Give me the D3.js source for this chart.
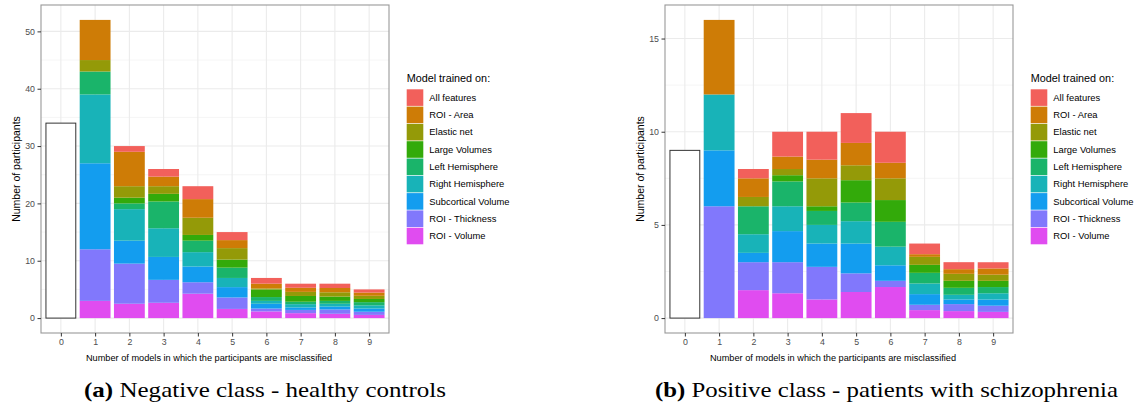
<!DOCTYPE html>
<html><head><meta charset="utf-8">
<script src="https://cdn.jsdelivr.net/npm/d3@7"></script>
<style>body{margin:0;background:#fff}svg{display:block}</style>
</head><body>
<svg id="c" width="1134" height="405"></svg>
<script>
// ---- data ----
const categories = [0,1,2,3,4,5,6,7,8,9];
const seriesNames = ["ROI - Volume","ROI - Thickness","Subcortical Volume","Right Hemisphere","Left Hemisphere","Large Volumes","Elastic net","ROI - Area","All features"];
const seriesColors = ["#E04CF0","#8178FC","#139DEF","#18B3B8","#1AB46A","#33AA0A","#949A08","#CE7C06","#F2605B"];
const yTicksNeg = [0,10,20,30,40,50];
const yTicksPos = [0,5,10,15];

// Negative class (healthy controls)
const negZero = 34;
const negVolume      = [0, 3, 2.5, 2.667, 4.25, 1.6, 1.167, 0.857, 0.75, 0.556];
const negThickness   = [0, 9, 7,   4,     2,    2.0, 0.5,   0.571, 0.75, 0.556];
const negSubcortical = [0,15, 4,   4,     2.75, 1.8, 0.833, 0.429, 0.5,  0.556];
const negRight       = [0,12, 5.5, 5,     2.5,  1.6, 0.5,   0.571, 0.5,  0.556];
const negLeft        = [0, 4, 1,   4.667, 2,    1.8, 0.667, 0.429, 0.5,  0.556];
const negLarge       = [0, 0, 1,   1.333, 1,    1.4, 1.333, 1.0,   0.75, 0.556];
const negElastic     = [0, 2, 2,   1.333, 3,    2.0, 0.167, 0.714, 0.75, 0.556];
const negArea        = [0, 7, 6,   1.667, 3.25, 1.4, 0.833, 0.714, 0.75, 0.556];
const negAll         = [0, 0, 1,   1.333, 2.25, 1.4, 1.0,   0.714, 0.75, 0.556];

// Positive class (patients with schizophrenia)
const posZero = 9;
const posVolume      = [0, 0, 1.5, 1.333, 1.0,  1.4, 1.667, 0.429, 0.375, 0.333];
const posThickness   = [0, 6, 1.5, 1.667, 1.75, 1.0, 0.333, 0.286, 0.375, 0.333];
const posSubcortical = [0, 3, 0.5, 1.667, 1.25, 1.6, 0.833, 0.571, 0.25,  0.333];
const posRight       = [0, 3, 1,   1.333, 1.0,  1.2, 1.0,   0.571, 0.25,  0.333];
const posLeft        = [0, 0, 1.5, 1.333, 0.75, 1.0, 1.333, 0.571, 0.375, 0.333];
const posLarge       = [0, 0, 0,   0.333, 0.25, 1.2, 1.167, 0.429, 0.375, 0.333];
const posElastic     = [0, 0, 0.5, 0.333, 1.5,  0.8, 1.167, 0.429, 0.375, 0.333];
const posArea        = [0, 4, 1,   0.667, 1.0,  1.2, 0.833, 0.143, 0.25,  0.333];
const posAll         = [0, 0, 0.5, 1.333, 1.5,  1.6, 1.667, 0.571, 0.375, 0.333];

const xTitle = "Number of models in which the participants are misclassified";
const yTitle = "Number of participants";
const legendTitle = "Model trained on:";

const svg = d3.select("#c");
const FONT = "'Liberation Sans', Arial, sans-serif";

function panel(opt){
  const {x0,x1,y0,y1,series,zero,yTicks,yLabelX,legendX,capLabel,capText,capX,capW} = opt;
  const g = svg.append("g");
  const rows = categories.map((c,i)=>{
    const r = {cat:c};
    seriesNames.forEach((s,j)=>{ r[s] = series[j][i]; });
    return r;
  });
  const stacked = d3.stack().keys(seriesNames)(rows);
  const maxV = d3.max([zero, d3.max(rows, r=>d3.sum(seriesNames, s=>r[s]))]);
  const y = d3.scaleLinear().domain([-0.05*maxV, 1.05*maxV]).range([y1,y0]);
  const x = d3.scaleLinear().domain([-0.58, 9.58]).range([x0,x1]);
  const bw = x(0.9)-x(0);

  // grid
  const minor = d3.range(0, yTicks.length-1).map(i=>(yTicks[i]+yTicks[i+1])/2);
  g.append("g").selectAll("line").data(minor).join("line")
    .attr("x1",x0).attr("x2",x1).attr("y1",d=>y(d)).attr("y2",d=>y(d))
    .attr("stroke","#F3F3F3").attr("stroke-width",0.8);
  g.append("g").selectAll("line").data(yTicks).join("line")
    .attr("x1",x0).attr("x2",x1).attr("y1",d=>y(d)).attr("y2",d=>y(d))
    .attr("stroke","#EBEBEB").attr("stroke-width",1.1);
  g.append("g").selectAll("line").data(categories).join("line")
    .attr("y1",y0).attr("y2",y1).attr("x1",d=>x(d)).attr("x2",d=>x(d))
    .attr("stroke","#EBEBEB").attr("stroke-width",1.1);

  // zero bar
  g.append("rect").attr("x",x(0)-bw/2+0.5).attr("width",bw-1)
    .attr("y",y(zero)).attr("height",y(0)-y(zero))
    .attr("fill","#fff").attr("stroke","#333").attr("stroke-width",1);

  // stacked bars
  g.append("g").selectAll("g").data(stacked).join("g")
    .attr("fill",(d,i)=>seriesColors[i])
    .selectAll("rect").data(d=>d.filter(p=>p[1]-p[0]>0)).join("rect")
    .attr("x",d=>x(d.data.cat)-bw/2).attr("width",bw)
    .attr("y",d=>y(d[1])).attr("height",d=>y(d[0])-y(d[1]));

  // border
  g.append("rect").attr("x",x0).attr("y",y0).attr("width",x1-x0).attr("height",y1-y0)
    .attr("fill","none").attr("stroke","#999").attr("stroke-width",1.1);

  // y axis
  const ya = g.append("g").attr("transform",`translate(${x0},0)`)
    .call(d3.axisLeft(y).tickValues(yTicks).tickSize(3.5).tickPadding(2.5));
  ya.select(".domain").remove();
  ya.selectAll("line").attr("stroke","#333");
  ya.selectAll("text").attr("fill","#4D4D4D").style("font-family",FONT).style("font-size","8.8px");
  // x axis
  const xa = g.append("g").attr("transform",`translate(0,${y1})`)
    .call(d3.axisBottom(x).tickValues(categories).tickFormat(d3.format("d")).tickSize(3.5).tickPadding(2));
  xa.select(".domain").remove();
  xa.selectAll("line").attr("stroke","#333");
  xa.selectAll("text").attr("fill","#4D4D4D").style("font-family",FONT).style("font-size","8.8px");

  // titles
  g.append("text").attr("x",(x0+x1)/2-6).attr("y",360.5).attr("text-anchor","middle")
    .style("font-family",FONT).style("font-size","9.2px").text(xTitle);
  g.append("text").attr("transform",`translate(${yLabelX},${(y0+y1)/2}) rotate(-90)`)
    .attr("text-anchor","middle").style("font-family",FONT).style("font-size","10.5px").text(yTitle);

  // legend
  const lg = g.append("g").attr("transform",`translate(${legendX},0)`);
  lg.append("text").attr("x",0).attr("y",82).style("font-family",FONT).style("font-size","10.8px").text(legendTitle);
  const items = seriesNames.map((s,i)=>({s,c:seriesColors[i]})).reverse();
  const it = lg.selectAll("g.it").data(items).join("g").attr("class","it")
    .attr("transform",(d,i)=>`translate(0,${89.3+i*17.3})`);
  it.append("rect").attr("width",16.6).attr("height",16.6).attr("fill",d=>d.c);
  it.append("text").attr("x",22.6).attr("y",11.6).style("font-family",FONT).style("font-size","9.4px").text(d=>d.s);

  // caption
  const cap = g.append("text").attr("x",capX).attr("y",397)
    .attr("textLength",capW).attr("lengthAdjust","spacingAndGlyphs")
    .style("font-family","'Liberation Serif','DejaVu Serif',serif").style("font-size","21px");
  cap.append("tspan").attr("font-weight","bold").text(capLabel);
  cap.append("tspan").text(" " + capText);
}

panel({x0:41,x1:389,y0:5,y1:333,
  series:[negVolume,negThickness,negSubcortical,negRight,negLeft,negLarge,negElastic,negArea,negAll],
  zero:negZero,yTicks:yTicksNeg,yLabelX:19.5,legendX:406.7,
  capLabel:"(a)",capText:"Negative class - healthy controls",capX:84,capW:362});
panel({x0:665,x1:1013,y0:5,y1:333,
  series:[posVolume,posThickness,posSubcortical,posRight,posLeft,posLarge,posElastic,posArea,posAll],
  zero:posZero,yTicks:yTicksPos,yLabelX:643.5,legendX:1030.7,
  capLabel:"(b)",capText:"Positive class - patients with schizophrenia",capX:655,capW:463});
</script>
</body></html>
